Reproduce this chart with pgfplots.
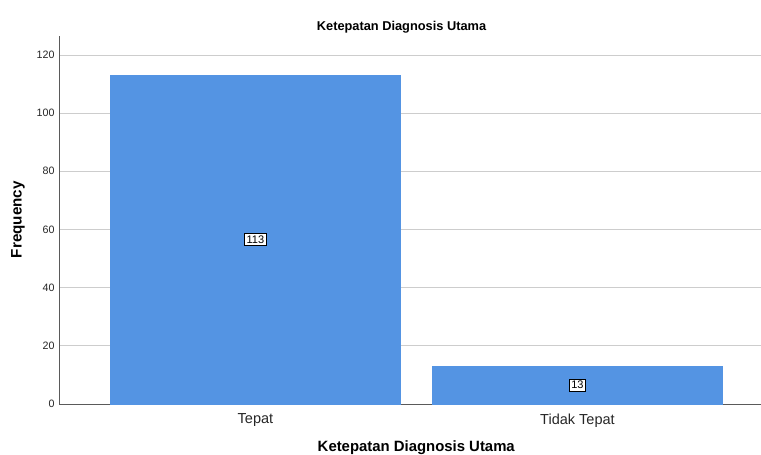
\documentclass[border=0pt]{standalone}
\usepackage{pgfplots}
\pgfplotsset{compat=1.18}
\usepackage{fontspec}
\setmainfont{Liberation Sans}
\definecolor{barblue}{RGB}{84,148,227}
\definecolor{gridgray}{RGB}{205,205,205}
\definecolor{axgray}{RGB}{90,90,90}
\begin{document}
\begin{tikzpicture}
\useasboundingbox (0,0) rectangle (761bp,455bp);
\begin{axis}[
  at={(59bp,51bp)}, anchor=south west,
  scale only axis,
  width=702bp, height=368bp,
  xmin=-0.61, xmax=1.57,
  ymin=0, ymax=126.5,
  axis x line*=bottom, axis y line*=left,
  axis line style={axgray, line width=0.8bp},
  xtick={0,1}, xticklabels={Tepat, Tidak Tepat},
  ytick={0,20,40,60,80,100,120},
  major tick length=0pt,
  ymajorgrids, grid style={gridgray, line width=0.8bp},
  /pgf/number format/assume math mode=true,
  x tick label style={font=\fontsize{14.5bp}{16bp}\selectfont, text=black!85, yshift=-6bp},
  y tick label style={font=\fontsize{10.7bp}{12bp}\selectfont, text=black!85, xshift=-1bp},
  xlabel={\textbf{Ketepatan Diagnosis Utama}},
  ylabel={\textbf{Frequency}},
  x label style={font=\fontsize{14.9bp}{16bp}\selectfont, at={(axis description cs:0.509,0)}, anchor=center, yshift=-44bp},
  y label style={font=\fontsize{15.2bp}{16bp}\selectfont, at={(axis description cs:-0.0584,0.501)}, anchor=center},
  title={\textbf{Ketepatan Diagnosis Utama}},
  title style={font=\fontsize{12.8bp}{14bp}\selectfont, at={(axis description cs:0.488,1)}, anchor=center, yshift=3bp},
  clip=false,
]
\addplot[ybar, bar width=290bp, bar shift=0pt, fill=barblue, draw=barblue] coordinates {(0,113) (1,13)};
\addplot[draw=none, mark=none, nodes near coords, point meta=explicit symbolic,
  nodes near coords align=center,
  every node near coord/.append style={draw=black, fill=white, inner sep=2.2bp, line width=0.7bp, font=\fontsize{11bp}{12bp}\selectfont, anchor=center}]
  coordinates {(0,56.5)[113] (1,6.5)[13]};
\end{axis}
\end{tikzpicture}
\end{document}
